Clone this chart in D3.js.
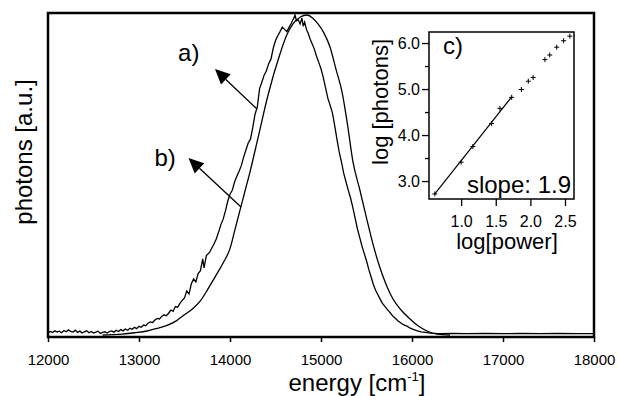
<!DOCTYPE html>
<html>
<head>
<meta charset="utf-8">
<title>photons vs energy</title>
<script src="https://d3js.org/d3.v7.min.js"></script>
<style>
  body { margin: 0; background: #fff; }
  text { font-family: "Liberation Sans", Arial, sans-serif; fill: #000; }
</style>
</head>
<body>
<script>
// curve a) : measured spectrum (noisy)
var energyA = [12000,12025,12050,12075,12100,12125,12150,12175,12200,12225,12250,12275,12300,12325,12350,12375,12400,12425,12450,12475,12500,12525,12550,12575,12600,12625,12650,12675,12700,12725,12750,12775,12800,12825,12850,12875,12900,12925,12950,12975,13000,13025,13050,13075,13100,13125,13150,13175,13200,13225,13250,13275,13300,13325,13350,13375,13400,13425,13450,13475,13500,13525,13550,13575,13600,13625,13650,13675,13700,13715,13740,13775,13800,13825,13850,13875,13900,13925,13950,13975,14000,14025,14050,14075,14100,14125,14150,14175,14200,14225,14250,14275,14300,14325,14350,14375,14400,14425,14450,14475,14500,14525,14550,14575,14600,14625,14650,14675,14700,14715,14730,14750,14770,14790,14805,14820,14840,14860,14880,14900,14925,14950,14975,15000,15025,15050,15075,15100,15125,15150,15175,15200,15225,15250,15275,15300,15325,15350,15375,15400,15425,15450,15475,15500,15525,15550,15575,15600,15625,15650,15675,15700,15725,15750,15775,15800,15825,15850,15875,15900,15925,15950,15975,16000,16050,16100,16150,16200,16250,16300,16450,16600,16800,17000,17200,17400,17600,17800,18000];
var photonsA = [.006,.011,.008,.013,.009,.012,.007,.014,.010,.016,.011,.009,.015,.008,.012,.006,.010,.013,.007,.011,.006,.009,.012,.005,.008,.010,.006,.011,.013,.009,.015,.011,.017,.013,.019,.015,.021,.018,.024,.020,.027,.024,.031,.029,.037,.041,.039,.047,.052,.050,.058,.063,.060,.068,.078,.074,.089,.087,.099,.108,.116,.138,.128,.160,.175,.166,.192,.201,.238,.210,.248,.258,.272,.285,.301,.322,.345,.362,.388,.418,.440,.452,.478,.496,.512,.530,.556,.578,.600,.612,.648,.690,.712,.770,.790,.812,.826,.848,.862,.896,.920,.935,.948,.962,.955,.948,.962,.975,.990,1.0,.982,.985,.972,.990,.965,.978,.955,.942,.925,.912,.895,.872,.852,.832,.805,.772,.740,.718,.695,.655,.612,.572,.540,.505,.478,.452,.428,.398,.365,.332,.305,.278,.255,.232,.205,.182,.158,.140,.126,.112,.099,.090,.081,.073,.064,.056,.050,.043,.038,.033,.030,.027,.022,.019,.014,.010,.008,.006,.005,.004,.005,.004,.005,.004,.005,.004,.005,.004,.004];

// curve b) : smooth spectrum
var energyB = [12600,12700,12824,12950,13088,13200,13308,13414,13484,13580,13670,13760,13854,13930,14000,14055,14110,14165,14220,14311,14418,14549,14620,14692,14770,14846,14910,14967,15030,15099,15165,15231,15290,15352,15430,15505,15575,15648,15720,15791,15880,15978,16070,16165,16275,16418];
var photonsB = [0,.001,.003,.007,.0125,.021,.030,.045,.060,.080,.105,.145,.19,.228,.27,.33,.39,.45,.51,.62,.75,.878,.935,.972,.993,1.0,.99,.972,.945,.9,.83,.76,.66,.54,.45,.36,.28,.21,.155,.1125,.078,.05,.028,.0125,.003,0];

var energyTicks = [12000,13000,14000,15000,16000,17000,18000];

// inset c)
var logPower = [0.62,1.0,1.17,1.44,1.56,1.73,1.87,1.97,2.04,2.21,2.28,2.38,2.48,2.57];
var logPhotons = [2.72,3.41,3.75,4.25,4.58,4.82,4.99,5.17,5.25,5.64,5.74,5.91,6.05,6.15];
var fitPower = [0.62, 1.73];
var slope = 1.9;
var insetXTicks = [1.0,1.5,2.0,2.5];
var insetYTicks = [3.0,4.0,5.0,6.0];
var insetYMinor = [3.5,4.5,5.5];

// arrows: label position, tip and tail in data units
var arrows = [
  {label: "a)", lx: 13429, ly: .856, tipE: 13835, tipI: .831, tailE: 14297, tailI: .706},
  {label: "b)", lx: 13170, ly: .528, tipE: 13544, tipI: .553, tailE: 14121, tailI: .400}
];

var W = 618, H = 396;
var svg = d3.select("body").append("svg").attr("width", W).attr("height", H);
svg.append("rect").attr("width", W).attr("height", H).attr("fill", "#fff");

var x = d3.scaleLinear().domain([12000, 18000]).range([48, 594]);
var y = d3.scaleLinear().domain([0, 1]).range([335, 15]);

// main curves
var lineA = d3.line().x(function(d, i) { return x(energyA[i]); }).y(function(d) { return y(d); });
var lineB = d3.line().curve(d3.curveMonotoneX).x(function(d, i) { return x(energyB[i]); }).y(function(d) { return y(d); });

svg.append("path").attr("d", lineA(photonsA)).attr("fill", "none").attr("stroke", "#000").attr("stroke-width", 1.3);
svg.append("path").attr("d", lineB(photonsB)).attr("fill", "none").attr("stroke", "#000").attr("stroke-width", 1.3);

// frame
svg.append("rect").attr("x", 48).attr("y", 13).attr("width", 546).attr("height", 324)
   .attr("fill", "none").attr("stroke", "#000").attr("stroke-width", 2.5);

// x axis
var xAxis = svg.append("g").attr("transform", "translate(0,337)")
   .call(d3.axisBottom(x).tickValues(energyTicks).tickSize(5).tickFormat(d3.format("d")));
xAxis.select(".domain").remove();
xAxis.selectAll("line").attr("stroke-width", 1.5);
xAxis.selectAll("text").attr("y", 28).attr("dy", 0).style("font-size", "15px")
   .style("font-family", "'Liberation Sans', Arial, sans-serif");

var xl = svg.append("text").attr("x", 357).attr("y", 391).attr("text-anchor", "middle").style("font-size", "24px");
xl.append("tspan").text("energy [cm");
xl.append("tspan").attr("dy", -10).style("font-size", "13px").text("-1");
xl.append("tspan").attr("dy", 10).text("]");

svg.append("text").attr("transform", "translate(32,152) rotate(-90)").attr("text-anchor", "middle")
   .style("font-size", "24px").text("photons [a.u.]");

// arrows
arrows.forEach(function(a) {
  var tx = x(a.tipE), ty = y(a.tipI), ex = x(a.tailE), ey = y(a.tailI);
  var ang = Math.atan2(ey - ty, ex - tx);
  var hl = 15, hw = 7;
  var bx = tx + hl * Math.cos(ang), by = ty + hl * Math.sin(ang);
  svg.append("line").attr("x1", bx).attr("y1", by).attr("x2", ex).attr("y2", ey)
     .attr("stroke", "#000").attr("stroke-width", 1.3);
  svg.append("path").attr("d", "M" + tx + "," + ty +
      "L" + (bx - hw * Math.sin(ang)) + "," + (by + hw * Math.cos(ang)) +
      "L" + (bx + hw * Math.sin(ang)) + "," + (by - hw * Math.cos(ang)) + "Z")
     .attr("fill", "#000");
  svg.append("text").attr("x", x(a.lx)).attr("y", y(a.ly)).style("font-size", "24px").text(a.label);
});

// inset
var ix = d3.scaleLinear().domain([0.536, 2.63]).range([429, 574]);
var iy = d3.scaleLinear().domain([2.61, 6.24]).range([199, 32]);

svg.append("rect").attr("x", 429).attr("y", 32).attr("width", 145).attr("height", 167)
   .attr("fill", "#fff").attr("stroke", "#000").attr("stroke-width", 1.5);

var gy = svg.append("g").attr("transform", "translate(429,0)")
   .call(d3.axisLeft(iy).tickValues(insetYTicks).tickSize(7).tickPadding(2).tickFormat(d3.format(".1f")));
gy.select(".domain").remove();
gy.selectAll("line").attr("stroke-width", 1.3);
gy.selectAll("text").style("font-size", "16px").style("font-family", "'Liberation Sans', Arial, sans-serif");
var gym = svg.append("g").attr("transform", "translate(429,0)")
   .call(d3.axisLeft(iy).tickValues(insetYMinor).tickSize(4).tickFormat(""));
gym.select(".domain").remove();
gym.selectAll("line").attr("stroke-width", 1.3);

var gx = svg.append("g").attr("transform", "translate(0,199)")
   .call(d3.axisBottom(ix).tickValues(insetXTicks).tickSize(7).tickFormat(d3.format(".1f")));
gx.select(".domain").remove();
gx.selectAll("line").attr("stroke-width", 1.3);
gx.selectAll("text").attr("y", 28).attr("dy", 0).style("font-size", "16px")
   .style("font-family", "'Liberation Sans', Arial, sans-serif");

svg.append("text").attr("x", 507).attr("y", 249).attr("text-anchor", "middle").style("font-size", "22px").text("log[power]");
svg.append("text").attr("transform", "translate(388,102) rotate(-90)").attr("text-anchor", "middle")
   .style("font-size", "22px").text("log [photons]");

// fit line
svg.append("line")
   .attr("x1", ix(fitPower[0])).attr("y1", iy(logPhotons[0]))
   .attr("x2", ix(fitPower[1])).attr("y2", iy(logPhotons[0] + slope * (fitPower[1] - fitPower[0])))
   .attr("stroke", "#000").attr("stroke-width", 1.2);

// markers
svg.selectAll(".pt").data(logPower).enter().append("path").attr("class", "pt")
   .attr("d", function(d, i) {
     var px = ix(d), py = iy(logPhotons[i]);
     return "M" + (px - 2.5) + "," + py + "H" + (px + 2.5) + "M" + px + "," + (py - 2.5) + "V" + (py + 2.5);
   })
   .attr("stroke", "#000").attr("stroke-width", 1);

svg.append("text").attr("x", 443).attr("y", 54).style("font-size", "24px").text("c)");
svg.append("text").attr("x", 571).attr("y", 193).attr("text-anchor", "end").style("font-size", "24px").text("slope: 1.9");
</script>
</body>
</html>
